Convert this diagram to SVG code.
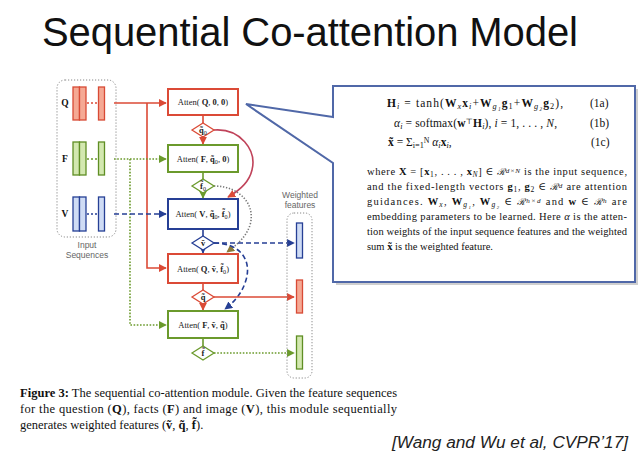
<svg xmlns="http://www.w3.org/2000/svg" width="640" height="460" viewBox="0 0 640 460">
<style>
.title{font-family:"Liberation Sans",Arial,sans-serif;font-size:40px;fill:#111}
.serif{font-family:"Liberation Serif","DejaVu Serif",serif;fill:#111}
.b{font-weight:bold}
.i{font-style:italic}
.sub{baseline-shift:-25%;font-size:72%}
.sup{baseline-shift:32%;font-size:68%}
.cal{font-family:"DejaVu Serif",serif;font-style:italic;font-size:88%}
.lab{font-family:"Liberation Serif","DejaVu Serif",serif;font-size:8.5px;fill:#222;text-anchor:middle}
.gray{font-family:"Liberation Sans",Arial,sans-serif;font-size:8.5px;fill:#666;text-anchor:middle}
.dot{fill:none;stroke:#888;stroke-width:1;stroke-dasharray:1.2 1.8}
.red{stroke:#db4a36}
.grn{stroke:#6b9a2c}
.blu{stroke:#263f95}
.box{fill:#fff;stroke-width:2}
.rbar{fill:#f5a994;stroke:#d84a35;stroke-width:1.3}
.gbar{fill:#d3e8b0;stroke:#5f8e24;stroke-width:1.3}
.bbar{fill:#cfdcf5;stroke:#263f95;stroke-width:1.3}
.dia{fill:#fff;stroke-width:1.3}
.ln{fill:none;stroke-width:1.6}
.dsh{stroke-dasharray:5 3}
.dt{stroke-dasharray:1.6 1.6}
</style>
<defs>
<marker id="ar" viewBox="0 0 10 10" refX="9" refY="5" markerWidth="5" markerHeight="5" orient="auto"><path d="M0,0 L10,5 L0,10 z" fill="#db4a36"/></marker>
<marker id="ag" viewBox="0 0 10 10" refX="9" refY="5" markerWidth="5" markerHeight="5" orient="auto"><path d="M0,0 L10,5 L0,10 z" fill="#6b9a2c"/></marker>
<marker id="ab" viewBox="0 0 10 10" refX="9" refY="5" markerWidth="5" markerHeight="5" orient="auto"><path d="M0,0 L10,5 L0,10 z" fill="#263f95"/></marker>
<marker id="ay" viewBox="0 0 10 10" refX="9" refY="5" markerWidth="5" markerHeight="5" orient="auto"><path d="M0,0 L10,5 L0,10 z" fill="#8a7a3a"/></marker>
</defs>
<rect width="640" height="460" fill="#fff"/>
<text class="title" x="42" y="46" textLength="536">Sequential Co-attention Model</text>

<g id="input-sequences">
<rect class="dot" x="57" y="80" width="59" height="157" rx="8"/>
<text class="serif b" x="65" y="106" font-size="9.5" text-anchor="middle">Q</text>
<rect class="rbar" x="73" y="87" width="6.5" height="33"/>
<rect class="rbar" x="79.5" y="87" width="6.5" height="33"/>
<line x1="87" y1="103" x2="98" y2="103" class="ln red" stroke-width="1.2" stroke-dasharray="2 2"/>
<rect class="rbar" x="98.5" y="87" width="6" height="33"/>
<text class="serif b" x="65" y="162" font-size="9.5" text-anchor="middle">F</text>
<rect class="gbar" x="73" y="142" width="6.5" height="33"/>
<rect class="gbar" x="79.5" y="142" width="6.5" height="33"/>
<line x1="87" y1="159" x2="98" y2="159" class="ln grn" stroke-width="1.2" stroke-dasharray="2 2"/>
<rect class="gbar" x="98.5" y="142" width="6" height="33"/>
<text class="serif b" x="65" y="217" font-size="9.5" text-anchor="middle">V</text>
<rect class="bbar" x="73" y="197" width="6.5" height="34"/>
<rect class="bbar" x="79.5" y="197" width="6.5" height="34"/>
<line x1="87" y1="214" x2="98" y2="214" class="ln blu" stroke-width="1.2" stroke-dasharray="2 2"/>
<rect class="bbar" x="98.5" y="197" width="6" height="34"/>
<text class="gray" x="87" y="248">Input</text>
<text class="gray" x="87" y="258">Sequences</text>
</g>

<g id="connectors">
<path class="ln red" d="M114,103 H166" marker-end="url(#ar)"/>
<path class="ln red" d="M147,103 V268 H166" marker-end="url(#ar)"/>
<path class="ln grn dt" d="M114,159 H166" marker-end="url(#ag)"/>
<path class="ln grn dt" d="M130,159 V325 H166" marker-end="url(#ag)"/>
<path class="ln blu dsh" d="M114,214 H166" marker-end="url(#ab)"/>
<path class="ln red" d="M203,115 V123" stroke-width="1.3"/>
<path class="ln red" d="M203,137 V144" stroke-width="1.3" marker-end="url(#ar)"/>
<path class="ln grn" d="M203,172 V179" stroke-width="1.3"/>
<path class="ln grn" d="M203,193 V198" stroke-width="1.3" marker-end="url(#ag)"/>
<path class="ln blu" d="M203,229 V236" stroke-width="1.3"/>
<path class="ln blu" d="M203,250 V253" stroke-width="1.3" marker-end="url(#ab)"/>
<path class="ln red" d="M203,283 V290" stroke-width="1.3"/>
<path class="ln red" d="M203,304 V310" stroke-width="1.3" marker-end="url(#ar)"/>
<path class="ln grn" d="M203,338 V346" stroke-width="1.3"/>
<path class="ln" stroke="#c0435a" stroke-width="1.3" d="M214,130 C240,128 257,150 252,170 C249,183 237,192 228,197" marker-end="url(#ar)"/>
<path class="ln" stroke="#777" stroke-width="1.1" stroke-dasharray="1.3 1.7" d="M214,186 C240,186 256,205 250,225 C246,238 235,246 227,252" marker-end="url(#ay)"/>
<path class="ln blu" stroke-width="1.4" stroke-dasharray="5 3" d="M214,243 C240,243 252,260 246,280 C242,294 233,303 225,309" marker-end="url(#ab)"/>
<path class="ln blu dsh" d="M214,243 H294" marker-end="url(#ab)"/>
<path class="ln red" d="M214,297 H294" marker-end="url(#ar)"/>
<path class="ln grn dt" d="M214,353 H294" marker-end="url(#ag)"/>
</g>

<g id="atten-q00">
<rect class="box red" x="168" y="89" width="70" height="26"/>
<text class="lab" x="203" y="105">Atten( <tspan class="b">Q</tspan>, <tspan class="b">0</tspan>, <tspan class="b">0</tspan>)</text>
</g>
<g id="q0">
<path class="dia red" d="M192,130 L203,123 L214,130 L203,137 Z"/>
<text class="lab" x="203" y="133" font-size="7.5"><tspan class="b">q̃</tspan><tspan class="sub">0</tspan></text>
</g>
<g id="atten-f">
<rect class="box grn" x="168" y="145" width="70" height="27"/>
<text class="lab" x="203" y="161.5">Atten( <tspan class="b">F</tspan>, <tspan class="b">q̃</tspan><tspan class="sub">0</tspan>, <tspan class="b">0</tspan>)</text>
</g>
<g id="f0">
<path class="dia grn" d="M192,186 L203,179 L214,186 L203,193 Z"/>
<text class="lab" x="203" y="189" font-size="7.5"><tspan class="b">f̃</tspan><tspan class="sub">0</tspan></text>
</g>
<g id="atten-v">
<rect class="box blu" x="168" y="199" width="70" height="30"/>
<text class="lab" x="203" y="217">Atten( <tspan class="b">V</tspan>, <tspan class="b">q̃</tspan><tspan class="sub">0</tspan>, <tspan class="b">f̃</tspan><tspan class="sub">0</tspan>)</text>
</g>
<g id="v">
<path class="dia blu" d="M192,243 L203,236 L214,243 L203,250 Z"/>
<text class="lab" x="203" y="246" font-size="7.5" font-weight="bold">ṽ</text>
</g>
<g id="atten-q2">
<rect class="box red" x="168" y="254" width="70" height="29"/>
<text class="lab" x="203" y="271.5">Atten( <tspan class="b">Q</tspan>, <tspan class="b">ṽ</tspan>, <tspan class="b">f̃</tspan><tspan class="sub">0</tspan>)</text>
</g>
<g id="q">
<path class="dia red" d="M192,297 L203,290 L214,297 L203,304 Z"/>
<text class="lab" x="203" y="300" font-size="7.5" font-weight="bold">q̃</text>
</g>
<g id="atten-f2">
<rect class="box grn" x="168" y="311" width="70" height="27"/>
<text class="lab" x="203" y="327.5">Atten( <tspan class="b">F</tspan>, <tspan class="b">ṽ</tspan>, <tspan class="b">q̃</tspan>)</text>
</g>
<g id="f">
<path class="dia grn" d="M192,353 L203,346 L214,353 L203,360 Z"/>
<text class="lab" x="203" y="356" font-size="7.5" font-weight="bold">f̃</text>
</g>

<g id="weighted-features">
<text class="gray" x="300" y="198">Weighted</text>
<text class="gray" x="300" y="208">features</text>
<rect class="dot" x="287" y="213" width="25" height="165" rx="7"/>
<rect class="bbar" x="296.5" y="223" width="6" height="35"/>
<rect class="rbar" x="296.5" y="280" width="6" height="33"/>
<rect class="gbar" x="296.5" y="336" width="6" height="33"/>
</g>

<g id="callout">
<path d="M336,120 L249,107 L336,166 V285 H638 V89 H336 Z" fill="#bbb" opacity="0.7"/>
<path d="M333,117 L246,104 L333,163 V282 H635 V86 H333 Z" fill="#fff" stroke="#5068a8" stroke-width="2" stroke-linejoin="miter"/>
<g class="serif" font-size="11.5">
<text x="387" y="107" textLength="176" lengthAdjust="spacing"><tspan class="b">H</tspan><tspan class="i sub">i</tspan> = tanh(<tspan class="b">W</tspan><tspan class="i sub">x</tspan><tspan class="b">x</tspan><tspan class="i sub">i</tspan>+<tspan class="b">W</tspan><tspan class="i sub">g₁</tspan><tspan class="b">g</tspan><tspan class="sub">1</tspan>+<tspan class="b">W</tspan><tspan class="i sub">g₂</tspan><tspan class="b">g</tspan><tspan class="sub">2</tspan>),</text>
<text x="590" y="107">(1a)</text>
<text x="394" y="127" textLength="163" lengthAdjust="spacing"><tspan class="i">α</tspan><tspan class="i sub">i</tspan> = softmax(<tspan class="b">w</tspan><tspan class="sup">⊤</tspan><tspan class="b">H</tspan><tspan class="i sub">i</tspan>),   <tspan class="i">i</tspan> = 1, . . . , <tspan class="i">N</tspan>,</text>
<text x="590" y="127">(1b)</text>
<text x="388" y="146"><tspan class="b">x̃</tspan>  = Σ<tspan class="sub">i=1</tspan><tspan class="sup">N</tspan> <tspan class="i">α</tspan><tspan class="i sub">i</tspan><tspan class="b">x</tspan><tspan class="i sub">i</tspan>,</text>
<text x="591" y="146">(1c)</text>
</g>
<g class="serif" font-size="10.5">
<text x="367" y="175" textLength="260" lengthAdjust="spacing">where <tspan class="b">X</tspan> = [<tspan class="b">x</tspan><tspan class="sub">1</tspan>, . . . , <tspan class="b">x</tspan><tspan class="i sub">N</tspan>] ∈ <tspan class="cal">ℛ</tspan><tspan class="i sup">d×N</tspan> is the input sequence,</text>
<text x="367" y="190" textLength="260" lengthAdjust="spacing">and the fixed-length vectors <tspan class="b">g</tspan><tspan class="sub">1</tspan>, <tspan class="b">g</tspan><tspan class="sub">2</tspan> ∈ <tspan class="cal">ℛ</tspan><tspan class="i sup">d</tspan> are attention</text>
<text x="367" y="205" textLength="260" lengthAdjust="spacing">guidances. <tspan class="b">W</tspan><tspan class="i sub">x</tspan>, <tspan class="b">W</tspan><tspan class="i sub">g₁</tspan>, <tspan class="b">W</tspan><tspan class="i sub">g₂</tspan> ∈ <tspan class="cal">ℛ</tspan><tspan class="i sup">h×d</tspan> and <tspan class="b">w</tspan> ∈ <tspan class="cal">ℛ</tspan><tspan class="i sup">h</tspan> are</text>
<text x="367" y="220" textLength="260" lengthAdjust="spacing">embedding parameters to be learned. Here <tspan class="i">α</tspan> is the atten-</text>
<text x="367" y="235" textLength="260" lengthAdjust="spacing">tion weights of the input sequence features and the weighted</text>
<text x="367" y="250">sum <tspan class="b">x̃</tspan> is the weighted feature.</text>
</g>
</g>

<g id="caption" class="serif" font-size="12.5">
<text x="20" y="397" textLength="377" lengthAdjust="spacing"><tspan class="b">Figure 3:</tspan> The sequential co-attention module. Given the feature sequences</text>
<text x="20" y="413" textLength="377" lengthAdjust="spacing">for the question (<tspan class="b">Q</tspan>), facts (<tspan class="b">F</tspan>) and image (<tspan class="b">V</tspan>), this module sequentially</text>
<text x="20" y="429">generates weighted features (<tspan class="b">ṽ</tspan>, <tspan class="b">q̃</tspan>, <tspan class="b">f̃</tspan>).</text>
</g>
<text x="392" y="448" font-family="'Liberation Sans',Arial,sans-serif" font-style="italic" font-size="16" fill="#222" textLength="236" lengthAdjust="spacingAndGlyphs">[Wang and Wu et al, CVPR’17]</text>
</svg>
